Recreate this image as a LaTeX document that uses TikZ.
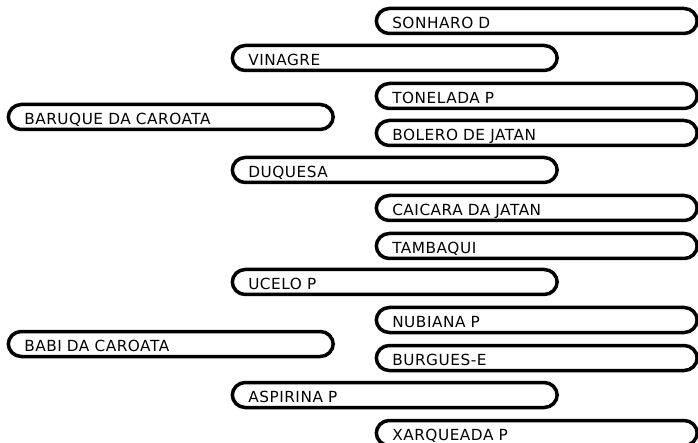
\documentclass[tikz,border=0pt]{standalone}
\usepackage{fontspec}
\setmainfont{DejaVu Sans}
\newfontfamily\boxfont[LetterSpace=3.5]{DejaVu Sans}
\begin{document}
\begin{tikzpicture}[x=1pt,y=1pt,
  pbox/.style={draw=black, line width=3.5pt, rounded corners=13pt, anchor=west,
    minimum height=25pt, inner xsep=16pt, inner ysep=0pt, align=left,
    text height=15pt, text depth=0pt,
    font=\boxfont\fontsize{15.3pt}{16pt}\selectfont},
  wide/.style={pbox, text width=293pt},
  narrow/.style={pbox, text width=289pt}]
\useasboundingbox (0,0) rectangle (698,-443);
% column 1
\node[wide] (g1a) at (6.5,-117) {BARUQUE DA CAROATA};
\node[wide] (g1b) at (6.5,-344) {BABI DA CAROATA};
% column 2
\node[wide] (g2a) at (230.5,-58) {VINAGRE};
\node[wide] (g2b) at (230.5,-170) {DUQUESA};
\node[wide] (g2c) at (230.5,-282) {UCELO P};
\node[wide] (g2d) at (230.5,-395) {ASPIRINA P};
% column 3
\node[narrow] (g3a) at (374.5,-21) {SONHARO D};
\node[narrow] (g3b) at (374.5,-96) {TONELADA P};
\node[narrow] (g3c) at (374.5,-133) {BOLERO DE JATAN};
\node[narrow] (g3d) at (374.5,-208) {CAICARA DA JATAN};
\node[narrow] (g3e) at (374.5,-246) {TAMBAQUI};
\node[narrow] (g3f) at (374.5,-320) {NUBIANA P};
\node[narrow] (g3g) at (374.5,-358) {BURGUES-E};
\node[narrow] (g3h) at (374.5,-433) {XARQUEADA P};
\end{tikzpicture}
\end{document}
